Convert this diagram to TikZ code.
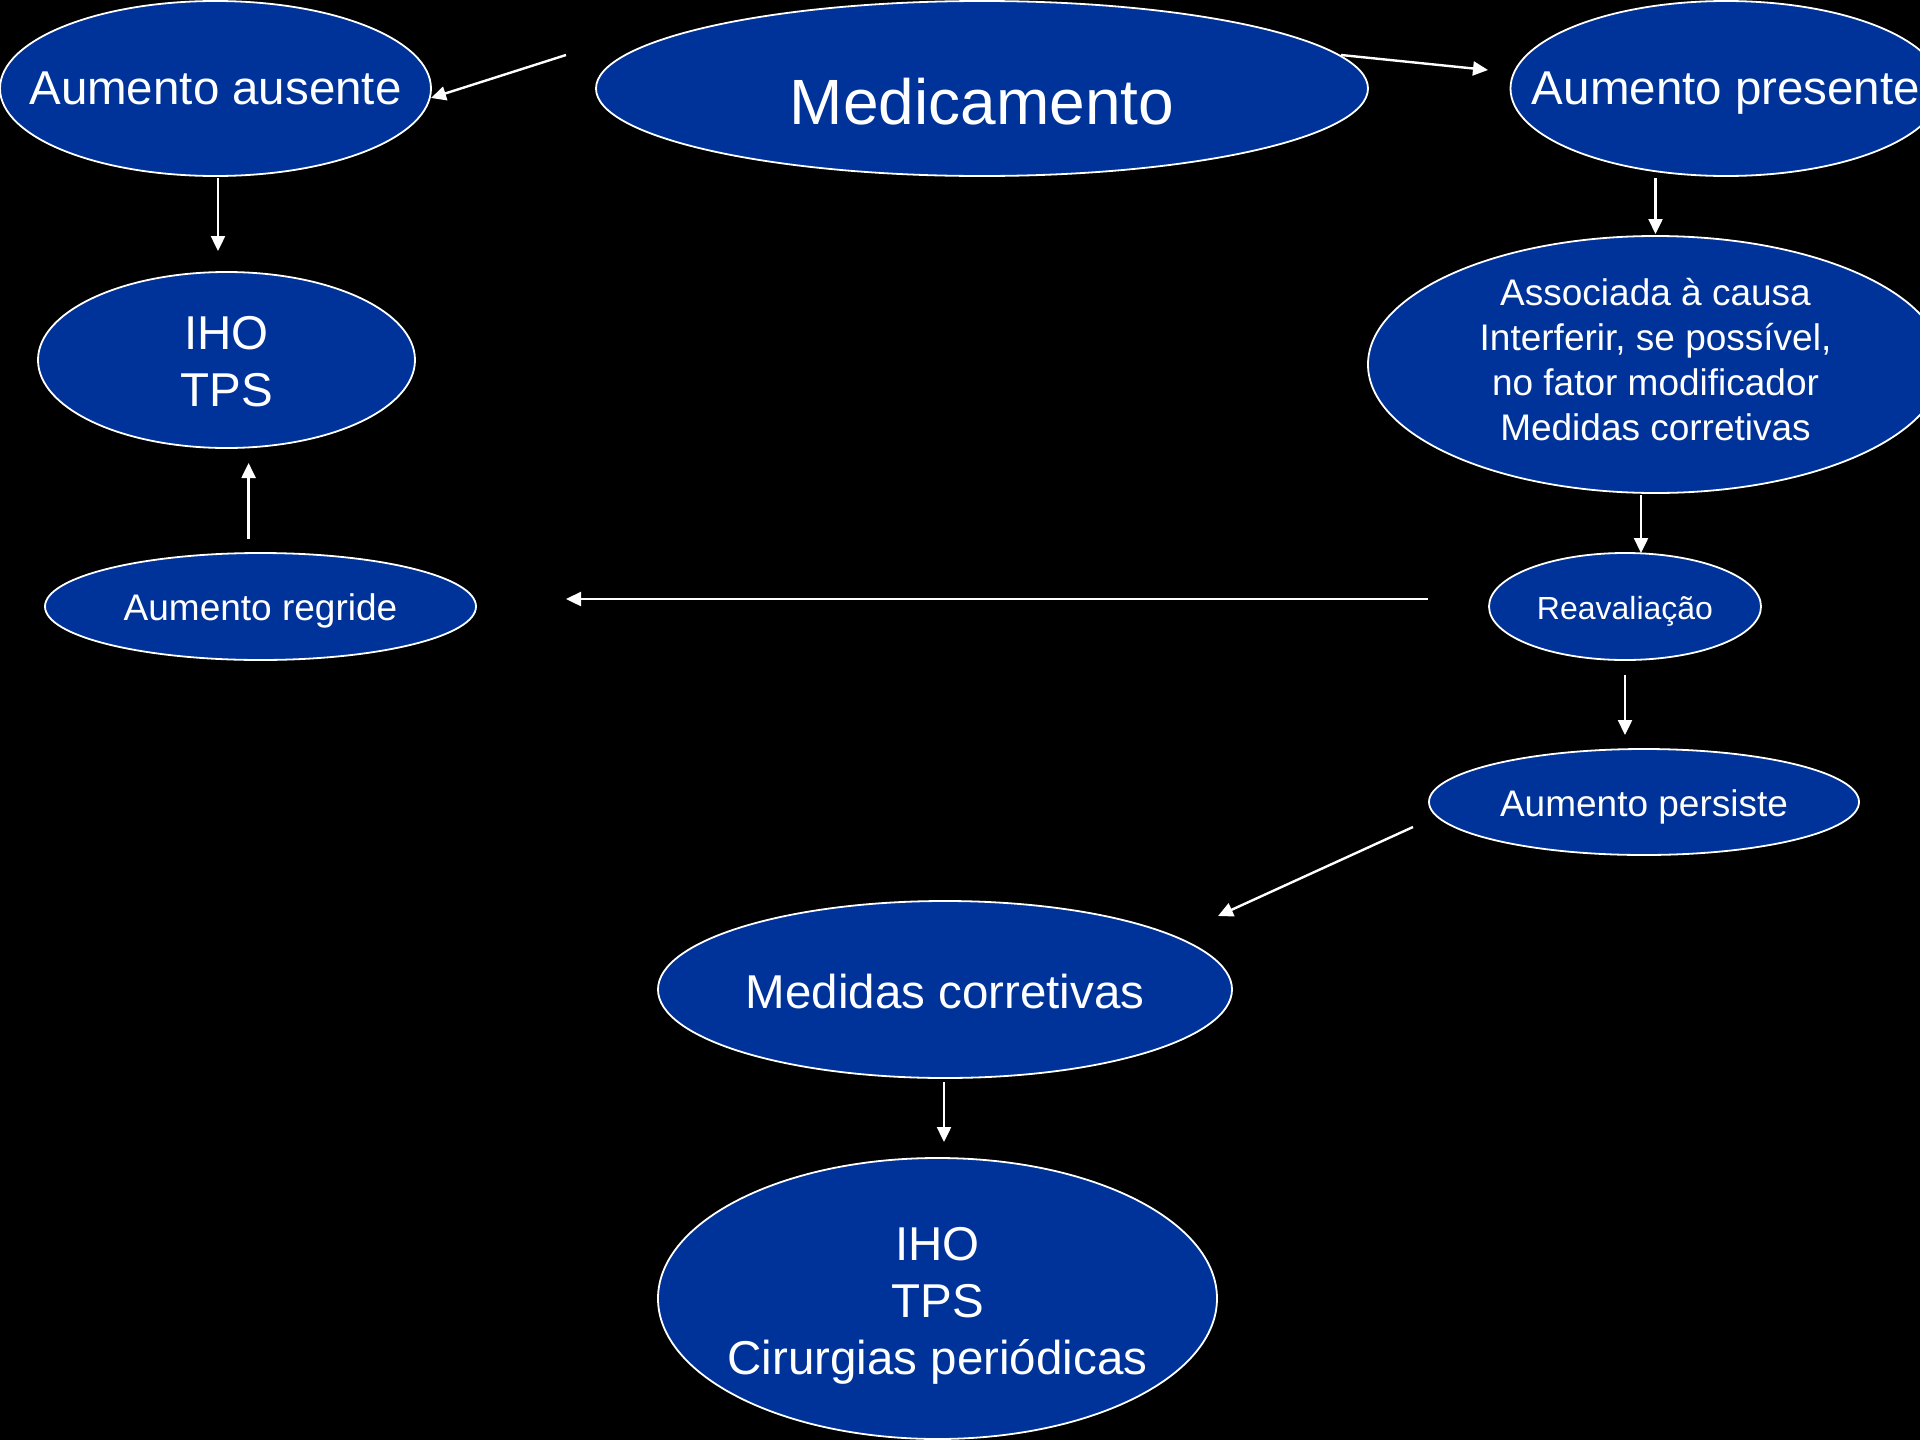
\documentclass[tikz,border=0pt]{standalone}
\usepackage{fontspec}
\setmainfont{Liberation Sans}
\usetikzlibrary{shapes.geometric,arrows.meta}
\definecolor{nblue}{HTML}{003399}
\begin{document}
\begin{tikzpicture}[x=1pt,y=-1pt,
  bub/.style={ellipse, draw=white, line width=1.8pt, fill=nblue, inner sep=0pt},
  lab/.style={text=white, align=center, inner sep=0pt},
  fA/.style={font=\fontsize{64}{77}\selectfont},
  fB/.style={font=\fontsize{47.5}{57}\selectfont},
  fC/.style={font=\fontsize{37}{45}\selectfont},
  fD/.style={font=\fontsize{32}{38}\selectfont},
  arr/.style={draw=white, line width=2.4pt, -{Triangle[length=15pt,width=14pt]}}]
\useasboundingbox (0,0) rectangle (1920,1440);
\fill[black] (0,0) rectangle (1920,1440);

\node[bub, minimum width=431pt, minimum height=175pt, label={[lab,fB]center:Aumento ausente}] (aus) at (215.5,88.5) {};
\node[bub, minimum width=772pt, minimum height=175pt, label={[lab,fA,yshift=-13pt]center:Medicamento}] (med) at (982,88.5) {};
\node[bub, minimum width=431pt, minimum height=175pt, label={[lab,fB,yshift=-5pt]center:Aumento presente}] (pres) at (1726,88.5) {};
\node[bub, minimum width=377pt, minimum height=176pt, label={[lab,fB,yshift=-1.5pt]center:IHO\\TPS}] (iho) at (226.5,360) {};
\node[bub, minimum width=575pt, minimum height=257pt, label={[lab,fC,yshift=5pt]center:Associada à causa\\Interferir, se possível,\\no fator modificador\\Medidas corretivas}] (assoc) at (1655.5,364.5) {};
\node[bub, minimum width=431pt, minimum height=107pt, label={[lab,fC,yshift=-4pt]center:Aumento regride}] (regr) at (260.5,606.5) {};
\node[bub, minimum width=272pt, minimum height=107pt, label={[lab,fD,yshift=-5pt]center:Reavaliação}] (reav) at (1625,606.5) {};
\node[bub, minimum width=430pt, minimum height=106pt, label={[lab,fC,yshift=-5pt]center:Aumento persiste}] (pers) at (1644,802) {};
\node[bub, minimum width=574pt, minimum height=177pt, label={[lab,fB,yshift=-2.5pt]center:Medidas corretivas}] (corr) at (945,989.5) {};
\node[bub, minimum width=559pt, minimum height=281pt, label={[lab,fB,yshift=-7pt]center:IHO\\TPS\\Cirurgias periódicas}] (cir) at (937.5,1298.5) {};

\coordinate (a1s) at (566,55);     \coordinate (a1e) at (431,98);
\coordinate (a2s) at (1341,55);    \coordinate (a2e) at (1488,70);
\coordinate (a3s) at (218,178);    \coordinate (a3e) at (218,251);
\coordinate (a4s) at (1655.5,178); \coordinate (a4e) at (1655.5,234);
\coordinate (a5s) at (1641,495);   \coordinate (a5e) at (1641,553);
\coordinate (a6s) at (248.6,539);  \coordinate (a6e) at (248.6,463);
\coordinate (a7s) at (1428,599);   \coordinate (a7e) at (566,599);
\coordinate (a8s) at (1625,675);   \coordinate (a8e) at (1625,735);
\coordinate (a9s) at (1413,827);   \coordinate (a9e) at (1218,916);
\coordinate (a10s) at (944,1082);  \coordinate (a10e) at (944,1142);

\draw[arr] (a1s) -- (a1e);
\draw[arr] (a2s) -- (a2e);
\draw[arr] (a3s) -- (a3e);
\draw[arr] (a4s) -- (a4e);
\draw[arr] (a5s) -- (a5e);
\draw[arr] (a6s) -- (a6e);
\draw[arr] (a7s) -- (a7e);
\draw[arr] (a8s) -- (a8e);
\draw[arr] (a9s) -- (a9e);
\draw[arr] (a10s) -- (a10e);
\end{tikzpicture}
\end{document}
